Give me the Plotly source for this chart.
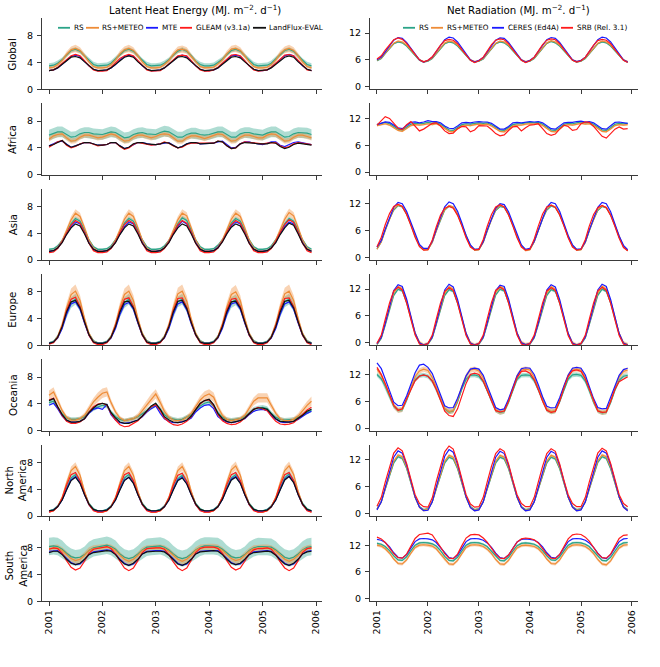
import plotly.graph_objects as go
import pandas as pd

# ---------------- data (monthly, Jan 2001 - Dec 2005) ----------------
DATES = [d.strftime("%Y-%m-%d") for d in pd.date_range("2001-01-01", periods=60, freq="MS")]
YEAR_TICKS = ["2001-01-01", "2002-01-01", "2003-01-01", "2004-01-01", "2005-01-01", "2006-01-01"]
YEAR_LABELS = ["2001", "2002", "2003", "2004", "2005", "2006"]
REGIONS = ["Global", "Africa", "Asia", "Europe", "Oceania", "North<br>America", "South<br>America"]
LE_NAMES = ["RS", "RS+METEO", "MTE", "GLEAM (v3.1a)", "LandFlux-EVAL"]
RN_NAMES = ["RS", "RS+METEO", "CERES (Ed4A)", "SRB (Rel. 3.1)"]

# ---- Latent heat energy (MJ m-2 d-1) ----
LE_GLOBAL_RS = [3.5,3.6,3.9,4.4,5.1,5.8,6.0,5.7,5.0,4.3,3.7,3.5,
                3.5,3.6,3.9,4.5,5.2,5.8,6.0,5.7,5.0,4.3,3.7,3.5,
                3.5,3.6,3.9,4.4,5.1,5.7,6.0,5.7,5.0,4.2,3.7,3.5,
                3.5,3.6,4.0,4.5,5.2,5.8,6.0,5.7,5.0,4.3,3.7,3.5,
                3.5,3.6,3.9,4.5,5.2,5.8,6.0,5.7,5.0,4.3,3.7,3.5]
LE_GLOBAL_RSM = [3.2,3.3,3.7,4.3,5.2,5.9,6.1,5.8,5.0,4.1,3.4,3.2,
                 3.2,3.3,3.7,4.4,5.3,5.9,6.1,5.8,5.0,4.1,3.4,3.2,
                 3.2,3.3,3.7,4.3,5.2,5.9,6.0,5.8,4.9,4.1,3.4,3.2,
                 3.2,3.3,3.8,4.4,5.3,6.0,6.1,5.8,5.0,4.1,3.4,3.2,
                 3.2,3.3,3.7,4.4,5.3,5.9,6.1,5.8,5.0,4.1,3.4,3.2]
LE_GLOBAL_MTE = [2.8,2.9,3.2,3.7,4.3,4.9,5.1,4.9,4.2,3.5,3.0,2.8,
                 2.8,2.9,3.2,3.7,4.4,4.9,5.1,4.9,4.2,3.5,3.0,2.8,
                 2.8,2.9,3.2,3.7,4.3,4.9,5.1,4.9,4.2,3.5,3.0,2.8,
                 2.8,2.9,3.2,3.8,4.4,5.0,5.1,4.9,4.2,3.5,3.0,2.8,
                 2.8,2.9,3.3,3.8,4.4,5.0,5.2,5.0,4.3,3.5,3.0,2.8]
LE_GLOBAL_GLEAM = [2.8,2.9,3.3,3.9,4.5,5.0,5.2,5.0,4.3,3.5,2.9,2.7,
                   2.7,2.8,3.3,3.9,4.6,5.0,5.2,5.0,4.3,3.5,2.9,2.7,
                   2.7,2.8,3.2,3.8,4.5,5.0,5.1,5.0,4.3,3.5,2.9,2.7,
                   2.7,2.9,3.3,3.9,4.6,5.1,5.2,5.0,4.3,3.5,2.9,2.7,
                   2.8,2.9,3.3,3.9,4.6,5.1,5.2,5.0,4.3,3.6,2.9,2.8]
LE_GLOBAL_LF = [2.8,2.9,3.2,3.7,4.3,4.8,4.9,4.7,4.1,3.5,3.0,2.8,
                2.8,2.9,3.2,3.7,4.3,4.8,5.0,4.8,4.1,3.5,3.0,2.8,
                2.8,2.9,3.2,3.7,4.3,4.8,4.9,4.7,4.1,3.5,3.0,2.8,
                2.8,2.9,3.2,3.7,4.3,4.8,4.9,4.7,4.1,3.5,3.0,2.8,
                2.8,2.9,3.2,3.7,4.3,4.8,5.0,4.8,4.1,3.5,3.0,2.8]
LE_GLOBAL_RS_SD = [0.4,0.4,0.4,0.35,0.3,0.3,0.3,0.3,0.3,0.35,0.4,0.4]
LE_GLOBAL_RSM_SD = [0.25,0.25,0.3,0.35,0.45,0.5,0.55,0.5,0.4,0.3,0.25,0.25]

LE_AFRICA_RS = [5.9,6.2,6.4,6.4,6.0,5.6,5.7,6.1,6.3,6.3,6.1,6.0,
                6.0,6.2,6.4,6.3,5.9,5.5,5.6,6.0,6.2,6.3,6.1,6.0,
                6.0,6.3,6.5,6.4,6.0,5.6,5.6,6.0,6.2,6.2,6.0,5.9,
                6.0,6.2,6.4,6.4,6.0,5.6,5.6,6.1,6.3,6.3,6.1,6.0,
                5.9,6.2,6.4,6.4,6.0,5.6,5.7,6.1,6.3,6.3,6.2,6.0]
LE_AFRICA_RSM = [5.3,5.8,6.0,6.1,5.5,5.0,5.1,5.6,5.9,5.9,5.7,5.5,
                 5.6,5.9,6.1,5.9,5.4,5.0,5.1,5.6,5.9,5.9,5.7,5.5,
                 5.7,6.0,6.1,6.0,5.5,5.0,5.0,5.5,5.8,5.8,5.6,5.4,
                 5.6,5.9,6.1,6.0,5.5,5.0,5.1,5.6,5.9,5.9,5.7,5.5,
                 5.5,5.9,6.1,6.0,5.5,5.0,5.1,5.6,5.9,5.9,5.7,5.5]
LE_AFRICA_MTE = [4.3,4.6,4.9,5.0,4.5,4.1,4.3,4.6,4.8,4.8,4.6,4.4,
                 4.4,4.5,4.8,4.8,4.3,3.9,4.1,4.5,4.8,4.8,4.6,4.5,
                 4.5,4.6,4.8,4.8,4.4,4.0,4.2,4.6,4.8,4.8,4.6,4.6,
                 4.6,4.7,4.9,5.0,4.5,4.0,4.1,4.6,4.9,4.9,4.7,4.6,
                 4.5,4.7,4.9,4.9,4.4,4.2,4.5,4.8,4.9,4.8,4.6,4.5]
LE_AFRICA_GLEAM = [4.1,4.5,4.9,5.1,4.4,4.0,4.2,4.6,4.8,4.8,4.5,4.3,
                   4.4,4.5,4.8,4.8,4.2,3.8,4.0,4.5,4.8,4.7,4.5,4.4,
                   4.5,4.6,4.9,4.7,4.3,4.0,4.1,4.5,4.7,4.7,4.6,4.6,
                   4.6,4.7,5.0,4.9,4.3,3.9,4.0,4.6,4.9,4.8,4.7,4.6,
                   4.6,4.7,4.8,4.8,4.3,4.0,4.2,4.6,4.8,4.7,4.6,4.5]
LE_AFRICA_LF = [4.3,4.5,4.8,5.1,4.5,4.1,4.3,4.6,4.8,4.8,4.6,4.4,
                4.4,4.5,4.8,4.8,4.3,3.9,4.1,4.6,4.8,4.8,4.6,4.5,
                4.5,4.6,4.8,4.7,4.3,4.0,4.2,4.6,4.8,4.8,4.6,4.6,
                4.6,4.7,5.0,4.9,4.3,3.9,4.0,4.6,4.8,4.8,4.7,4.6,
                4.6,4.6,4.8,4.7,4.2,3.9,4.1,4.5,4.7,4.6,4.5,4.4]
LE_AFRICA_RS_SD = [0.8,0.8,0.8,0.8,0.8,0.8,0.8,0.8,0.8,0.8,0.8,0.8]
LE_AFRICA_RSM_SD = [0.4,0.4,0.4,0.4,0.4,0.4,0.4,0.4,0.4,0.4,0.4,0.4]

LE_ASIA_RS = [1.6,1.7,2.1,2.9,4.1,5.4,6.2,5.8,4.5,3.0,2.0,1.6,
              1.6,1.7,2.1,3.0,4.2,5.5,6.2,5.8,4.5,3.0,2.0,1.6,
              1.6,1.7,2.1,2.9,4.1,5.4,6.3,5.9,4.5,3.0,2.0,1.6,
              1.6,1.7,2.2,3.0,4.2,5.5,6.2,5.8,4.5,3.0,2.0,1.6,
              1.6,1.7,2.1,3.0,4.2,5.4,6.2,5.8,4.5,3.0,2.0,1.6]
LE_ASIA_RSM = [1.3,1.4,1.9,2.9,4.4,6.0,7.0,6.5,4.8,3.0,1.8,1.3,
               1.3,1.4,1.9,3.0,4.5,6.1,7.0,6.5,4.8,3.0,1.8,1.3,
               1.3,1.4,1.9,2.9,4.4,6.0,7.0,6.6,4.8,3.0,1.8,1.3,
               1.3,1.4,2.0,3.0,4.5,6.1,7.0,6.5,4.8,3.0,1.8,1.3,
               1.3,1.4,1.9,3.0,4.5,6.1,7.1,6.6,4.8,3.0,1.8,1.3]
LE_ASIA_MTE = [1.3,1.4,1.8,2.7,3.9,5.0,5.7,5.4,4.1,2.6,1.6,1.3,
               1.3,1.4,1.8,2.7,3.9,5.0,5.7,5.4,4.1,2.6,1.6,1.3,
               1.3,1.4,1.8,2.7,3.9,5.0,5.8,5.4,4.1,2.6,1.6,1.3,
               1.3,1.4,1.9,2.8,4.0,5.1,5.7,5.4,4.1,2.6,1.6,1.3,
               1.3,1.4,1.8,2.7,4.0,5.0,5.7,5.4,4.1,2.6,1.6,1.3]
LE_ASIA_GLEAM = [1.1,1.2,1.7,2.7,4.0,5.2,5.9,5.5,4.1,2.5,1.4,1.1,
                 1.1,1.2,1.7,2.7,4.1,5.3,5.9,5.5,4.1,2.5,1.4,1.1,
                 1.1,1.2,1.7,2.7,4.0,5.2,5.9,5.5,4.1,2.5,1.4,1.1,
                 1.1,1.2,1.8,2.8,4.1,5.3,5.9,5.5,4.1,2.5,1.4,1.1,
                 1.1,1.2,1.7,2.8,4.1,5.3,6.0,5.6,4.1,2.5,1.4,1.1]
LE_ASIA_LF = [1.3,1.4,1.8,2.6,3.8,4.8,5.4,5.1,3.9,2.5,1.6,1.3,
              1.3,1.4,1.8,2.6,3.8,4.8,5.4,5.1,3.9,2.5,1.6,1.3,
              1.3,1.4,1.8,2.6,3.8,4.8,5.4,5.1,3.9,2.5,1.6,1.3,
              1.3,1.4,1.8,2.7,3.9,4.9,5.4,5.1,3.9,2.5,1.6,1.3,
              1.3,1.4,1.8,2.6,3.8,4.8,5.5,5.2,3.9,2.5,1.6,1.3]
LE_ASIA_RS_SD = [0.15,0.15,0.2,0.2,0.25,0.3,0.3,0.3,0.25,0.2,0.15,0.15]
LE_ASIA_RSM_SD = [0.2,0.2,0.25,0.3,0.4,0.55,0.6,0.55,0.45,0.3,0.2,0.2]

LE_EUROPE_RS = [0.4,0.6,1.3,2.8,4.8,6.4,6.9,5.8,3.6,1.7,0.7,0.4,
                0.4,0.6,1.3,2.9,4.9,6.4,6.9,5.8,3.6,1.7,0.7,0.4,
                0.4,0.6,1.3,2.8,4.8,6.5,6.9,5.7,3.5,1.7,0.7,0.4,
                0.4,0.6,1.3,2.9,4.9,6.4,6.8,5.8,3.6,1.7,0.7,0.4,
                0.4,0.6,1.3,2.9,4.9,6.5,6.9,5.8,3.6,1.7,0.7,0.4]
LE_EUROPE_RSM = [0.3,0.5,1.3,3.1,5.6,7.6,8.1,6.7,4.0,1.8,0.6,0.3,
                 0.3,0.5,1.3,3.2,5.7,7.6,8.1,6.7,4.0,1.8,0.6,0.3,
                 0.3,0.5,1.3,3.1,5.6,7.7,8.1,6.6,3.9,1.8,0.6,0.3,
                 0.3,0.5,1.3,3.2,5.7,7.6,8.0,6.7,4.0,1.8,0.6,0.3,
                 0.3,0.5,1.3,3.2,5.7,7.7,8.1,6.7,4.0,1.8,0.6,0.3]
LE_EUROPE_MTE = [0.3,0.5,1.1,2.5,4.6,6.2,6.5,5.4,3.3,1.5,0.5,0.3,
                 0.3,0.5,1.1,2.5,4.6,6.1,6.4,5.4,3.3,1.5,0.5,0.3,
                 0.3,0.5,1.1,2.5,4.6,6.2,6.5,5.3,3.2,1.5,0.5,0.3,
                 0.3,0.5,1.1,2.5,4.6,6.2,6.4,5.4,3.3,1.5,0.5,0.3,
                 0.3,0.5,1.1,2.5,4.6,6.2,6.5,5.4,3.3,1.5,0.5,0.3]
LE_EUROPE_GLEAM = [0.2,0.4,1.2,2.9,5.2,6.9,7.2,5.8,3.5,1.5,0.4,0.1,
                   0.1,0.4,1.2,3.0,5.3,6.9,7.1,5.8,3.5,1.5,0.4,0.1,
                   0.1,0.4,1.2,2.9,5.2,7.0,7.1,5.7,3.4,1.5,0.4,0.1,
                   0.1,0.4,1.2,3.0,5.3,6.9,7.0,5.8,3.5,1.5,0.4,0.1,
                   0.1,0.4,1.2,3.0,5.3,7.0,7.1,5.8,3.5,1.5,0.4,0.1]
LE_EUROPE_LF = [0.3,0.5,1.2,2.8,5.0,6.5,6.7,5.6,3.5,1.6,0.5,0.3,
                0.3,0.5,1.2,2.8,5.0,6.5,6.6,5.6,3.5,1.6,0.5,0.3,
                0.3,0.5,1.2,2.8,5.0,6.6,6.7,5.5,3.4,1.6,0.5,0.3,
                0.3,0.5,1.2,2.8,5.0,6.5,6.6,5.6,3.5,1.6,0.5,0.3,
                0.3,0.5,1.2,2.8,5.0,6.6,6.7,5.6,3.5,1.6,0.5,0.3]
LE_EUROPE_RS_SD = [0.1,0.15,0.3,0.5,0.7,0.8,0.8,0.7,0.5,0.3,0.15,0.1]
LE_EUROPE_RSM_SD = [0.1,0.15,0.3,0.5,0.7,0.9,1.0,0.8,0.5,0.3,0.15,0.1]

LE_OCEANIA_RS = [4.2,4.4,3.5,2.5,1.9,1.7,1.7,1.8,2.1,2.8,3.3,3.6,
                 3.8,3.7,2.8,2.1,1.7,1.5,1.6,1.8,2.1,2.5,3.0,3.5,
                 3.9,3.2,2.4,1.9,1.7,1.6,1.7,2.0,2.4,3.1,3.7,4.1,
                 4.3,3.7,2.7,2.0,1.7,1.6,1.7,1.8,2.1,2.7,3.2,3.4,
                 3.5,3.3,2.6,2.0,1.7,1.6,1.6,1.7,2.0,2.4,2.8,3.1]
LE_OCEANIA_RSM = [5.3,5.8,4.5,3.0,2.0,1.6,1.6,1.8,2.3,3.3,4.3,5.0,
                  5.6,5.8,4.2,2.8,1.9,1.5,1.6,1.8,2.2,3.0,4.0,4.8,
                  5.5,4.2,2.9,2.0,1.6,1.5,1.6,2.0,2.6,3.6,4.6,5.2,
                  5.5,5.0,3.5,2.3,1.7,1.5,1.6,1.8,2.3,3.3,4.4,4.9,
                  4.9,4.9,3.8,2.6,1.8,1.5,1.5,1.7,2.2,3.0,3.8,4.4]
LE_OCEANIA_MTE = [3.8,4.1,3.3,2.2,1.5,1.3,1.3,1.4,1.8,2.6,3.2,3.4,
                  3.2,3.9,2.4,1.6,1.2,1.1,1.2,1.4,1.6,2.1,2.8,3.3,
                  3.7,2.6,1.8,1.4,1.2,1.2,1.3,1.5,1.9,2.8,3.4,3.8,
                  3.9,3.3,2.1,1.6,1.3,1.2,1.3,1.5,1.8,2.4,2.9,3.1,
                  3.2,3.0,2.3,1.7,1.3,1.2,1.3,1.4,1.7,2.2,2.6,2.9]
LE_OCEANIA_GLEAM = [4.6,4.9,3.5,2.3,1.4,1.1,1.1,1.3,1.8,2.8,3.6,4.0,
                    4.1,3.8,2.6,1.6,0.9,0.6,0.7,1.1,1.5,2.2,3.0,3.6,
                    3.9,3.0,1.9,1.3,0.9,0.8,1.0,1.4,2.1,3.2,4.0,4.5,
                    4.6,3.7,2.4,1.5,1.1,0.9,1.0,1.3,1.9,2.6,3.2,3.5,
                    3.3,3.0,2.2,1.4,1.0,0.9,1.0,1.2,1.8,2.4,3.1,3.5]
LE_OCEANIA_LF = [4.5,4.8,3.6,2.4,1.6,1.3,1.3,1.4,1.8,2.7,3.4,3.9,
                 4.1,3.9,2.7,1.9,1.3,1.1,1.1,1.3,1.6,2.2,3.0,3.7,
                 4.1,3.2,2.1,1.6,1.3,1.2,1.3,1.6,2.2,3.2,4.1,4.5,
                 4.7,3.9,2.6,1.8,1.4,1.2,1.3,1.5,1.9,2.6,3.2,3.4,
                 3.4,3.2,2.5,1.8,1.4,1.3,1.3,1.4,1.8,2.3,2.9,3.2]
LE_OCEANIA_RS_SD = [0.35,0.35,0.3,0.3,0.3,0.3,0.3,0.3,0.3,0.3,0.35,0.35]
LE_OCEANIA_RSM_SD = [0.7,0.7,0.5,0.4,0.3,0.3,0.3,0.3,0.4,0.5,0.6,0.7]

LE_NAMERICA_RS = [0.8,1.0,1.5,2.6,4.2,5.7,6.2,5.2,3.4,1.9,1.1,0.8,
                  0.8,1.0,1.5,2.6,4.2,5.7,6.2,5.2,3.4,1.9,1.1,0.8,
                  0.8,1.0,1.5,2.6,4.2,5.6,6.1,5.2,3.4,1.9,1.1,0.8,
                  0.8,1.0,1.5,2.7,4.3,5.7,6.2,5.2,3.4,1.9,1.1,0.8,
                  0.8,1.0,1.5,2.6,4.2,5.7,6.3,5.3,3.4,1.9,1.1,0.8]
LE_NAMERICA_RSM = [0.6,0.8,1.4,2.8,4.9,6.8,7.4,6.1,3.7,1.8,0.9,0.6,
                   0.6,0.8,1.4,2.8,4.9,6.8,7.4,6.1,3.7,1.8,0.9,0.6,
                   0.6,0.8,1.4,2.8,4.9,6.8,7.4,6.1,3.7,1.8,0.9,0.6,
                   0.6,0.8,1.4,2.9,5.0,6.9,7.5,6.1,3.7,1.8,0.9,0.6,
                   0.6,0.8,1.4,2.8,4.9,6.8,7.5,6.2,3.7,1.8,0.9,0.6]
LE_NAMERICA_MTE = [0.7,0.9,1.4,2.4,4.0,5.4,5.9,5.0,3.2,1.7,0.9,0.7,
                   0.7,0.9,1.4,2.4,4.0,5.4,5.8,5.0,3.2,1.7,0.9,0.7,
                   0.7,0.9,1.4,2.4,4.0,5.4,5.8,4.9,3.2,1.7,0.9,0.7,
                   0.7,0.9,1.4,2.5,4.1,5.5,5.9,5.0,3.2,1.7,0.9,0.7,
                   0.7,0.9,1.4,2.4,4.0,5.5,6.0,5.1,3.2,1.7,0.9,0.7]
LE_NAMERICA_GLEAM = [0.6,0.8,1.4,2.7,4.6,6.2,6.5,5.3,3.3,1.7,0.8,0.6,
                     0.6,0.8,1.4,2.7,4.6,6.2,6.5,5.3,3.3,1.7,0.8,0.6,
                     0.6,0.8,1.4,2.7,4.6,6.1,6.4,5.2,3.3,1.7,0.8,0.6,
                     0.6,0.8,1.4,2.8,4.7,6.2,6.5,5.3,3.3,1.7,0.8,0.6,
                     0.6,0.8,1.4,2.7,4.6,6.2,6.5,5.3,3.3,1.7,0.8,0.6]
LE_NAMERICA_LF = [0.8,0.9,1.4,2.4,3.9,5.3,5.8,4.9,3.2,1.8,1.0,0.8,
                  0.8,0.9,1.4,2.4,3.9,5.3,5.8,4.9,3.2,1.8,1.0,0.8,
                  0.8,0.9,1.4,2.4,3.9,5.3,5.7,4.8,3.2,1.8,1.0,0.8,
                  0.8,0.9,1.4,2.5,4.0,5.4,5.8,4.9,3.2,1.8,1.0,0.8,
                  0.8,0.9,1.4,2.4,3.9,5.4,5.9,5.0,3.2,1.8,1.0,0.8]
LE_NAMERICA_RS_SD = [0.1,0.1,0.2,0.3,0.4,0.5,0.5,0.45,0.35,0.2,0.1,0.1]
LE_NAMERICA_RSM_SD = [0.1,0.1,0.2,0.3,0.5,0.6,0.65,0.55,0.35,0.2,0.1,0.1]

LE_SAMERICA_RS = [8.2,8.3,8.2,7.8,7.2,6.7,6.5,6.6,7.0,7.6,8.0,8.1,
                  8.3,8.4,8.2,7.8,7.1,6.6,6.4,6.6,7.1,7.7,8.1,8.2,
                  8.3,8.3,8.1,7.7,7.1,6.6,6.4,6.6,7.1,7.7,8.1,8.3,
                  8.3,8.3,8.2,7.8,7.2,6.7,6.5,6.6,7.0,7.6,8.0,8.2,
                  8.2,8.2,8.1,7.7,7.1,6.6,6.4,6.6,7.1,7.7,8.1,8.2]
LE_SAMERICA_RSM = [7.9,8.0,8.0,7.6,7.0,6.4,6.1,6.3,6.9,7.6,7.9,8.0,
                   8.0,8.1,8.0,7.6,6.9,6.3,6.0,6.3,6.9,7.6,7.9,8.0,
                   8.0,8.0,7.9,7.5,6.9,6.3,6.0,6.3,6.9,7.6,8.0,8.1,
                   8.1,8.1,8.0,7.6,7.0,6.4,6.1,6.3,6.9,7.5,7.9,8.0,
                   8.0,8.0,7.9,7.5,6.9,6.3,6.0,6.3,6.9,7.6,7.9,8.0]
LE_SAMERICA_MTE = [7.5,7.6,7.6,7.1,6.4,5.8,5.5,5.6,6.2,7.0,7.4,7.5,
                   7.6,7.7,7.6,7.1,6.3,5.7,5.4,5.6,6.3,7.1,7.5,7.6,
                   7.6,7.6,7.5,7.0,6.3,5.7,5.4,5.6,6.3,7.1,7.5,7.6,
                   7.6,7.6,7.6,7.1,6.4,5.8,5.5,5.6,6.2,7.0,7.4,7.5,
                   7.5,7.6,7.5,7.0,6.3,5.7,5.4,5.6,6.3,7.1,7.5,7.6]
LE_SAMERICA_GLEAM = [7.8,8.0,7.9,7.2,6.1,5.1,4.7,5.0,6.0,7.2,7.8,7.9,
                     8.0,8.2,7.9,7.1,6.0,5.0,4.6,5.0,6.1,7.3,7.9,8.0,
                     8.0,8.0,7.8,7.0,5.9,5.0,4.6,5.0,6.1,7.3,7.9,8.1,
                     8.1,8.1,7.9,7.2,6.1,5.1,4.7,5.0,6.0,7.1,7.7,7.9,
                     7.9,8.0,7.8,7.0,5.9,5.0,4.6,5.0,6.1,7.3,7.9,8.0]
LE_SAMERICA_LF = [7.3,7.5,7.5,7.0,6.3,5.7,5.5,5.7,6.3,7.0,7.3,7.4,
                  7.4,7.6,7.5,7.0,6.2,5.6,5.4,5.7,6.3,7.1,7.4,7.5,
                  7.5,7.5,7.4,6.9,6.2,5.6,5.4,5.7,6.3,7.1,7.4,7.5,
                  7.5,7.6,7.5,7.0,6.3,5.7,5.5,5.7,6.3,7.0,7.3,7.4,
                  7.4,7.5,7.4,6.9,6.2,5.6,5.4,5.7,6.3,7.1,7.4,7.5]
LE_SAMERICA_RS_SD = [1.3,1.3,1.3,1.3,1.2,1.2,1.2,1.2,1.2,1.3,1.3,1.3]
LE_SAMERICA_RSM_SD = [0.5,0.5,0.5,0.5,0.5,0.5,0.5,0.5,0.5,0.5,0.5,0.5]

# ---- Net radiation (MJ m-2 d-1) ----
RN_GLOBAL_RS = [5.8,6.3,7.4,8.6,9.6,10.0,9.8,9.1,8.0,6.9,5.9,5.5,
                5.7,6.3,7.4,8.6,9.6,10.0,9.8,9.1,8.0,6.9,5.9,5.5,
                5.7,6.2,7.3,8.6,9.6,10.0,9.8,9.1,8.0,6.9,5.9,5.5,
                5.7,6.3,7.4,8.7,9.7,10.1,9.8,9.1,8.0,6.9,5.9,5.5,
                5.7,6.3,7.4,8.6,9.6,10.0,9.8,9.1,8.0,6.9,5.9,5.5]
RN_GLOBAL_RSM = [5.9,6.4,7.5,8.7,9.7,10.2,10.0,9.3,8.1,7.0,6.0,5.6,
                 5.8,6.4,7.5,8.8,9.8,10.2,10.0,9.3,8.1,7.0,6.0,5.6,
                 5.8,6.3,7.4,8.7,9.7,10.2,10.0,9.3,8.1,7.0,6.0,5.6,
                 5.8,6.4,7.5,8.8,9.8,10.3,10.0,9.3,8.1,7.0,6.0,5.6,
                 5.8,6.4,7.5,8.7,9.7,10.2,10.0,9.3,8.1,7.0,6.0,5.6]
RN_GLOBAL_CERES = [6.0,6.6,7.8,9.2,10.4,11.0,10.8,9.9,8.6,7.2,6.0,5.5,
                   5.9,6.6,7.8,9.3,10.5,11.1,10.9,10.0,8.6,7.2,6.0,5.5,
                   5.9,6.5,7.7,9.2,10.4,10.9,10.8,9.9,8.6,7.2,6.0,5.5,
                   5.9,6.6,7.8,9.3,10.5,11.0,10.8,9.9,8.6,7.2,6.0,5.6,
                   5.9,6.6,7.8,9.3,10.5,11.1,10.9,10.0,8.6,7.2,6.0,5.5]
RN_GLOBAL_SRB = [6.2,6.9,8.2,9.5,10.5,10.9,10.6,9.7,8.4,7.1,6.0,5.5,
                 5.9,6.7,8.0,9.3,10.3,10.6,10.4,9.6,8.3,7.0,5.9,5.4,
                 5.8,6.6,8.0,9.4,10.4,10.7,10.5,9.6,8.3,7.0,5.9,5.4,
                 5.8,6.6,8.0,9.4,10.4,10.7,10.5,9.6,8.3,7.0,5.9,5.5,
                 5.8,6.6,8.0,9.3,10.3,10.6,10.4,9.6,8.3,7.0,5.9,5.4]
RN_GLOBAL_RS_SD = [0.15,0.15,0.15,0.15,0.15,0.15,0.15,0.15,0.15,0.15,0.15,0.15]
RN_GLOBAL_RSM_SD = [0.2,0.2,0.2,0.2,0.2,0.2,0.2,0.2,0.2,0.2,0.2,0.2]

RN_AFRICA_RS = [10.6,10.9,11.1,10.8,10.2,9.6,9.4,10.0,10.7,10.9,10.8,10.9,
                11.1,10.9,11.1,10.7,10.0,9.4,9.3,9.9,10.6,10.8,10.7,10.9,
                11.0,10.9,11.0,10.6,10.0,9.4,9.3,9.9,10.6,10.8,10.8,11.0,
                11.1,11.0,11.1,10.7,10.0,9.4,9.3,9.9,10.7,10.9,10.8,11.0,
                11.2,11.0,11.1,10.7,10.0,9.4,9.3,9.9,10.7,10.9,10.8,10.9]
RN_AFRICA_RSM = [10.4,10.6,10.8,10.5,9.9,9.3,9.1,9.7,10.4,10.6,10.5,10.6,
                 10.8,10.6,10.8,10.4,9.7,9.1,9.0,9.6,10.3,10.5,10.4,10.6,
                 10.7,10.6,10.7,10.3,9.7,9.1,9.0,9.6,10.3,10.5,10.5,10.7,
                 10.8,10.7,10.8,10.4,9.7,9.1,9.0,9.6,10.4,10.6,10.5,10.7,
                 10.9,10.7,10.8,10.4,9.7,9.1,9.0,9.6,10.4,10.6,10.5,10.6]
RN_AFRICA_CERES = [10.6,11.0,11.2,11.1,10.5,9.9,9.7,10.4,11.1,11.2,11.0,11.2,
                   11.5,11.3,11.3,11.0,10.3,9.8,9.7,10.3,11.0,11.1,11.0,11.2,
                   11.3,11.2,11.2,10.9,10.2,9.6,9.6,10.2,11.0,11.1,11.0,11.2,
                   11.3,11.2,11.3,11.0,10.3,9.7,9.6,10.3,11.0,11.1,11.1,11.3,
                   11.4,11.2,11.3,11.0,10.3,9.7,9.6,10.3,11.1,11.2,11.0,10.9]
RN_AFRICA_SRB = [10.5,11.5,12.4,12.0,10.8,9.8,9.5,10.6,11.3,10.2,9.2,9.6,
                 10.3,10.9,11.0,10.3,9.2,8.6,8.7,9.7,10.2,10.1,9.0,9.4,
                 10.4,10.4,10.3,9.5,8.6,8.1,8.3,9.3,10.1,10.2,9.2,9.9,
                 10.5,10.6,10.8,9.7,8.6,8.2,8.5,9.6,10.5,10.2,9.3,9.5,
                 10.8,11.2,11.1,10.2,9.0,8.0,7.6,8.5,9.6,10.1,9.6,9.7]
RN_AFRICA_RS_SD = [0.15,0.15,0.15,0.15,0.15,0.15,0.15,0.15,0.15,0.15,0.15,0.15]
RN_AFRICA_RSM_SD = [0.2,0.2,0.2,0.2,0.2,0.2,0.2,0.2,0.2,0.2,0.2,0.2]

RN_ASIA_RS = [1.9,3.5,6.0,8.6,10.6,11.6,11.3,9.7,7.3,4.7,2.7,1.8,
              1.8,3.4,5.9,8.5,10.6,11.5,11.2,9.6,7.2,4.6,2.6,1.7,
              1.8,3.4,5.9,8.5,10.5,11.4,11.2,9.6,7.2,4.6,2.6,1.6,
              1.8,3.5,6.0,8.6,10.6,11.5,11.2,9.6,7.2,4.6,2.6,1.7,
              1.8,3.4,5.9,8.5,10.5,11.4,11.1,9.5,7.1,4.5,2.5,1.5]
RN_ASIA_RSM = [1.8,3.5,6.1,8.7,10.8,11.7,11.4,9.8,7.3,4.7,2.6,1.7,
               1.7,3.4,6.0,8.6,10.7,11.6,11.3,9.7,7.2,4.6,2.5,1.6,
               1.7,3.4,6.0,8.6,10.7,11.6,11.3,9.7,7.2,4.6,2.5,1.5,
               1.7,3.5,6.1,8.7,10.8,11.7,11.3,9.7,7.2,4.6,2.5,1.6,
               1.7,3.4,6.0,8.6,10.7,11.5,11.2,9.6,7.1,4.5,2.4,1.5]
RN_ASIA_CERES = [2.3,3.8,6.3,9.0,11.2,12.3,12.0,10.3,7.8,5.0,2.9,2.0,
                 2.0,3.6,6.2,9.0,11.3,12.4,12.0,10.3,7.7,4.9,2.8,1.8,
                 1.9,3.5,6.1,8.8,11.0,12.0,11.8,10.2,7.7,4.9,2.8,1.8,
                 2.0,3.6,6.2,9.0,11.2,12.3,12.0,10.3,7.7,4.9,2.8,1.8,
                 1.9,3.5,6.1,8.9,11.2,12.3,12.0,10.2,7.6,4.8,2.7,1.7]
RN_ASIA_SRB = [2.4,4.5,7.3,9.8,11.4,11.9,11.4,9.6,7.1,4.5,2.4,1.6,
               1.7,3.9,6.8,9.5,11.0,11.4,11.0,9.4,7.0,4.4,2.3,1.7,
               1.8,4.0,6.9,9.6,11.3,11.8,11.3,9.5,7.0,4.4,2.3,1.6,
               1.8,4.1,7.0,9.7,11.3,11.7,11.2,9.5,7.0,4.4,2.3,1.6,
               1.8,4.0,7.0,9.6,11.1,11.6,11.1,9.4,6.9,4.3,2.2,1.5]
RN_ASIA_RS_SD = [0.2,0.2,0.2,0.2,0.2,0.2,0.2,0.2,0.2,0.2,0.2,0.2]
RN_ASIA_RSM_SD = [0.2,0.2,0.2,0.2,0.2,0.2,0.2,0.2,0.2,0.2,0.2,0.2]

RN_EUROPE_RS = [-0.4,1.0,3.9,7.6,10.6,12.0,11.6,9.0,5.4,2.0,-0.1,-0.6,
                -0.3,1.1,4.0,7.6,10.6,11.9,11.5,8.9,5.3,1.9,-0.2,-0.6,
                -0.3,1.1,4.0,7.7,10.7,12.0,11.6,9.0,5.4,2.0,-0.1,-0.5,
                -0.3,1.1,4.0,7.6,10.6,11.9,11.5,8.9,5.3,1.9,-0.2,-0.6,
                -0.3,1.1,4.0,7.6,10.6,12.0,11.5,8.9,5.3,1.9,-0.2,-0.5]
RN_EUROPE_RSM = [-0.3,1.2,4.2,8.0,11.1,12.6,12.1,9.4,5.7,2.2,0.1,-0.5,
                 -0.2,1.3,4.3,8.0,11.1,12.5,12.0,9.3,5.6,2.1,0.0,-0.5,
                 -0.2,1.3,4.3,8.1,11.2,12.6,12.1,9.4,5.7,2.2,0.1,-0.4,
                 -0.2,1.3,4.3,8.0,11.1,12.5,12.0,9.3,5.6,2.1,0.0,-0.5,
                 -0.2,1.3,4.3,8.0,11.1,12.6,12.0,9.3,5.6,2.1,0.0,-0.4]
RN_EUROPE_CERES = [-0.2,1.2,4.3,8.3,11.7,13.0,12.6,9.8,5.8,2.2,0.0,-0.5,
                   -0.2,1.3,4.4,8.4,11.8,13.1,12.5,9.7,5.7,2.1,-0.1,-0.5,
                   -0.2,1.3,4.4,8.4,11.7,12.9,12.6,9.8,5.8,2.2,0.0,-0.4,
                   -0.2,1.3,4.4,8.4,11.8,13.0,12.5,9.7,5.7,2.1,-0.1,-0.5,
                   -0.2,1.3,4.4,8.4,11.8,13.1,12.6,9.7,5.7,2.1,-0.1,-0.5]
RN_EUROPE_SRB = [-0.1,1.7,5.2,8.9,11.6,12.4,11.8,8.9,5.2,1.7,-0.3,-0.6,
                 -0.2,1.7,5.2,8.9,11.5,12.3,11.7,8.8,5.1,1.6,-0.3,-0.6,
                 -0.2,1.7,5.3,9.0,11.7,12.4,11.8,8.9,5.2,1.7,-0.3,-0.6,
                 -0.2,1.7,5.2,8.9,11.6,12.3,11.7,8.8,5.1,1.6,-0.3,-0.6,
                 -0.2,1.7,5.2,8.9,11.6,12.4,11.7,8.8,5.1,1.6,-0.3,-0.6]
RN_EUROPE_RS_SD = [0.3,0.3,0.3,0.3,0.3,0.3,0.3,0.3,0.3,0.3,0.3,0.3]
RN_EUROPE_RSM_SD = [0.4,0.4,0.4,0.4,0.4,0.4,0.4,0.4,0.4,0.4,0.4,0.4]

RN_OCEANIA_RS = [12.0,11.0,9.4,7.0,4.9,4.0,4.1,6.2,8.8,10.8,11.7,11.9,
                 11.6,10.5,8.8,6.4,4.3,3.6,3.8,5.9,8.8,10.9,11.8,11.9,
                 11.6,10.4,8.5,6.0,4.0,3.5,3.7,5.8,8.6,10.9,11.8,11.9,
                 11.8,10.6,8.6,6.1,4.1,3.6,3.8,5.9,8.7,11.0,11.9,12.0,
                 11.8,10.5,8.4,5.8,3.9,3.4,3.6,5.7,8.5,10.7,11.6,11.8]
RN_OCEANIA_RSM = [13.2,11.8,9.8,7.2,5.0,4.0,4.2,6.5,9.3,11.5,12.8,13.2,
                  12.9,11.3,9.2,6.6,4.4,3.7,3.9,6.2,9.3,11.6,13.0,13.2,
                  12.8,11.2,8.9,6.2,4.1,3.6,3.8,6.1,9.1,11.6,13.0,13.2,
                  13.0,11.4,9.0,6.3,4.2,3.7,3.9,6.2,9.2,11.7,13.0,13.2,
                  13.0,11.3,8.8,6.0,4.0,3.5,3.7,6.0,9.0,11.4,12.7,13.0]
RN_OCEANIA_CERES = [14.6,13.3,11.0,8.3,5.8,5.0,5.1,7.2,9.8,12.4,14.1,14.3,
                    13.6,12.2,10.0,7.4,5.0,4.5,4.6,6.7,9.5,11.7,13.2,13.4,
                    13.2,11.8,9.5,6.9,4.6,4.1,4.3,6.5,9.3,11.7,13.3,13.5,
                    13.4,12.0,9.7,7.0,4.9,4.5,4.6,6.8,9.5,11.9,13.4,13.6,
                    13.4,11.9,9.3,6.6,4.6,4.3,4.4,6.7,9.4,11.8,13.1,13.4]
RN_OCEANIA_SRB = [13.6,12.0,9.9,7.5,5.1,4.0,4.3,6.5,8.7,10.6,11.6,11.9,
                  11.6,10.5,8.7,6.3,3.8,2.8,2.6,4.3,7.3,10.0,12.0,12.3,
                  12.0,10.5,8.4,6.0,3.9,3.6,3.8,6.0,8.8,11.3,12.7,12.8,
                  12.3,10.8,8.6,6.0,4.0,3.5,3.7,6.0,9.0,11.6,12.8,13.0,
                  12.7,11.0,8.8,6.0,3.8,3.5,3.6,6.0,8.7,10.4,11.0,11.5]
RN_OCEANIA_RS_SD = [0.5,0.5,0.5,0.5,0.5,0.5,0.5,0.5,0.5,0.5,0.5,0.5]
RN_OCEANIA_RSM_SD = [0.6,0.6,0.6,0.6,0.6,0.6,0.6,0.6,0.6,0.6,0.6,0.6]

RN_NAMERICA_RS = [1.0,2.6,5.4,8.6,11.3,12.7,12.3,10.1,6.8,3.6,1.5,0.8,
                  1.0,2.6,5.4,8.6,11.3,12.6,12.2,10.0,6.7,3.6,1.5,0.8,
                  1.0,2.6,5.4,8.6,11.3,12.6,12.2,10.0,6.7,3.6,1.5,0.8,
                  1.0,2.6,5.4,8.6,11.3,12.6,12.2,10.0,6.7,3.6,1.5,0.8,
                  1.0,2.6,5.4,8.6,11.4,12.7,12.3,10.0,6.7,3.6,1.5,0.8]
RN_NAMERICA_RSM = [0.9,2.6,5.5,8.8,11.7,13.1,12.7,10.4,6.9,3.6,1.4,0.7,
                   0.9,2.6,5.5,8.8,11.7,13.0,12.6,10.3,6.8,3.6,1.4,0.7,
                   0.9,2.6,5.5,8.8,11.7,13.0,12.6,10.3,6.8,3.6,1.4,0.7,
                   0.9,2.6,5.5,8.8,11.7,13.0,12.6,10.3,6.8,3.6,1.4,0.7,
                   0.9,2.6,5.5,8.8,11.8,13.1,12.7,10.4,6.8,3.6,1.4,0.7]
RN_NAMERICA_CERES = [0.8,2.6,5.8,9.5,12.6,14.0,13.5,10.9,7.2,3.7,1.4,0.6,
                     0.7,2.6,5.9,9.6,12.8,14.3,13.7,11.0,7.2,3.7,1.3,0.6,
                     0.8,2.6,5.8,9.5,12.6,13.9,13.4,10.8,7.1,3.7,1.4,0.6,
                     0.8,2.6,5.8,9.5,12.6,13.9,13.4,10.8,7.1,3.7,1.4,0.6,
                     0.8,2.6,5.8,9.5,12.6,14.0,13.5,10.9,7.1,3.7,1.4,0.6]
RN_NAMERICA_SRB = [1.6,3.6,7.0,10.6,13.5,14.7,14.0,11.2,7.5,4.2,2.2,1.5,
                   1.4,3.5,7.1,10.8,13.8,15.1,14.4,11.4,7.6,4.2,2.1,1.4,
                   1.5,3.6,7.0,10.6,13.4,14.5,13.9,11.1,7.4,4.2,2.2,1.5,
                   1.5,3.6,7.0,10.6,13.4,14.5,13.9,11.1,7.4,4.2,2.2,1.5,
                   1.5,3.6,7.0,10.6,13.5,14.6,14.0,11.2,7.5,4.2,2.2,1.5]
RN_NAMERICA_RS_SD = [0.3,0.3,0.3,0.3,0.3,0.3,0.3,0.3,0.3,0.3,0.3,0.3]
RN_NAMERICA_RSM_SD = [0.3,0.3,0.3,0.3,0.3,0.3,0.3,0.3,0.3,0.3,0.3,0.3]

RN_SAMERICA_RS = [12.4,12.2,11.7,10.8,9.6,8.7,8.6,9.4,10.8,12.0,12.5,12.6,
                  12.5,12.3,11.8,10.8,9.5,8.6,8.5,9.3,10.7,12.0,12.5,12.6,
                  12.5,12.2,11.7,10.7,9.5,8.6,8.5,9.3,10.7,11.9,12.4,12.5,
                  12.4,12.2,11.7,10.8,9.6,8.7,8.6,9.4,10.8,12.0,12.5,12.6,
                  12.5,12.2,11.7,10.7,9.5,8.6,8.5,9.3,10.7,12.0,12.5,12.6]
RN_SAMERICA_RSM = [12.0,11.8,11.2,10.2,8.9,7.9,7.8,8.7,10.2,11.5,12.0,12.1,
                   12.0,11.8,11.2,10.1,8.8,7.8,7.7,8.6,10.1,11.5,12.0,12.1,
                   12.0,11.7,11.1,10.1,8.8,7.8,7.7,8.6,10.1,11.4,11.9,12.0,
                   11.9,11.7,11.2,10.2,8.9,7.9,7.8,8.7,10.2,11.5,12.0,12.1,
                   12.0,11.7,11.1,10.1,8.8,7.8,7.6,8.5,10.1,11.4,12.0,12.1]
RN_SAMERICA_CERES = [13.3,13.1,12.6,11.6,10.3,9.3,9.1,9.9,11.4,12.8,13.4,13.5,
                     13.4,13.2,12.6,11.5,10.2,9.2,9.0,9.8,11.3,12.8,13.4,13.5,
                     13.4,13.1,12.5,11.5,10.2,9.2,9.0,9.8,11.3,12.7,13.3,13.4,
                     13.3,13.1,12.6,11.6,10.3,9.3,9.1,9.9,11.4,12.8,13.4,13.5,
                     13.4,13.1,12.5,11.5,10.2,9.2,9.0,9.9,11.4,12.8,13.4,13.5]
RN_SAMERICA_SRB = [13.8,13.4,12.6,11.4,10.1,9.2,9.1,10.0,11.8,13.5,14.4,14.6,
                   14.7,14.3,13.1,11.6,10.1,9.1,9.0,10.0,11.9,13.6,14.3,14.4,
                   14.3,13.6,12.7,11.3,10.0,9.1,9.0,9.8,11.3,12.7,13.4,13.6,
                   13.5,13.2,12.5,11.3,10.0,9.1,9.0,9.9,11.7,13.4,14.3,14.5,
                   14.4,13.8,12.9,11.5,10.1,9.2,9.1,10.0,11.8,13.5,14.2,14.3]
RN_SAMERICA_RS_SD = [0.25,0.25,0.25,0.25,0.25,0.25,0.25,0.25,0.25,0.25,0.25,0.25]
RN_SAMERICA_RSM_SD = [0.35,0.35,0.35,0.35,0.35,0.35,0.35,0.35,0.35,0.35,0.35,0.35]

# ---------------- tables built from the arrays above ----------------
LE_TABLE = [
    (LE_GLOBAL_RS, LE_GLOBAL_RSM, LE_GLOBAL_MTE, LE_GLOBAL_GLEAM, LE_GLOBAL_LF, LE_GLOBAL_RS_SD, LE_GLOBAL_RSM_SD),
    (LE_AFRICA_RS, LE_AFRICA_RSM, LE_AFRICA_MTE, LE_AFRICA_GLEAM, LE_AFRICA_LF, LE_AFRICA_RS_SD, LE_AFRICA_RSM_SD),
    (LE_ASIA_RS, LE_ASIA_RSM, LE_ASIA_MTE, LE_ASIA_GLEAM, LE_ASIA_LF, LE_ASIA_RS_SD, LE_ASIA_RSM_SD),
    (LE_EUROPE_RS, LE_EUROPE_RSM, LE_EUROPE_MTE, LE_EUROPE_GLEAM, LE_EUROPE_LF, LE_EUROPE_RS_SD, LE_EUROPE_RSM_SD),
    (LE_OCEANIA_RS, LE_OCEANIA_RSM, LE_OCEANIA_MTE, LE_OCEANIA_GLEAM, LE_OCEANIA_LF, LE_OCEANIA_RS_SD, LE_OCEANIA_RSM_SD),
    (LE_NAMERICA_RS, LE_NAMERICA_RSM, LE_NAMERICA_MTE, LE_NAMERICA_GLEAM, LE_NAMERICA_LF, LE_NAMERICA_RS_SD, LE_NAMERICA_RSM_SD),
    (LE_SAMERICA_RS, LE_SAMERICA_RSM, LE_SAMERICA_MTE, LE_SAMERICA_GLEAM, LE_SAMERICA_LF, LE_SAMERICA_RS_SD, LE_SAMERICA_RSM_SD),
]
RN_TABLE = [
    (RN_GLOBAL_RS, RN_GLOBAL_RSM, RN_GLOBAL_CERES, RN_GLOBAL_SRB, RN_GLOBAL_RS_SD, RN_GLOBAL_RSM_SD),
    (RN_AFRICA_RS, RN_AFRICA_RSM, RN_AFRICA_CERES, RN_AFRICA_SRB, RN_AFRICA_RS_SD, RN_AFRICA_RSM_SD),
    (RN_ASIA_RS, RN_ASIA_RSM, RN_ASIA_CERES, RN_ASIA_SRB, RN_ASIA_RS_SD, RN_ASIA_RSM_SD),
    (RN_EUROPE_RS, RN_EUROPE_RSM, RN_EUROPE_CERES, RN_EUROPE_SRB, RN_EUROPE_RS_SD, RN_EUROPE_RSM_SD),
    (RN_OCEANIA_RS, RN_OCEANIA_RSM, RN_OCEANIA_CERES, RN_OCEANIA_SRB, RN_OCEANIA_RS_SD, RN_OCEANIA_RSM_SD),
    (RN_NAMERICA_RS, RN_NAMERICA_RSM, RN_NAMERICA_CERES, RN_NAMERICA_SRB, RN_NAMERICA_RS_SD, RN_NAMERICA_RSM_SD),
    (RN_SAMERICA_RS, RN_SAMERICA_RSM, RN_SAMERICA_CERES, RN_SAMERICA_SRB, RN_SAMERICA_RS_SD, RN_SAMERICA_RSM_SD),
]

# ---------------- styling ----------------
W, H = 660, 667
FONT = "DejaVu Sans"
AX = "#3a3a3a"
C_RS = "#2ba488"
C_RSM = "#ee8c37"
C_BLUE = "#1a1aff"
C_RED = "#ff1a1a"
C_BLACK = "#111111"
F_RS = "rgba(43,164,136,0.38)"
F_RSM = "rgba(238,140,55,0.38)"
LW = 1.2

XDOM = [(42 / W, 322 / W), (370 / W, 638 / W)]
XRANGE = [("2000-11-14", "2006-02-11"), ("2000-11-12", "2006-02-13")]
YRANGE = [(0, 10.67), (-0.6, 15.4)]
YTICKS = [[0, 4, 8], [0, 6, 12]]
ROW_BOTTOM0, ROW_PITCH, ROW_H = 90, 86, 72


def ydom(r):
    b = ROW_BOTTOM0 + ROW_PITCH * r
    return (1 - b / H, 1 - (b - ROW_H) / H)


fig = go.Figure()


def add_band(ax, vals, sd, fill):
    hi = [v + sd[i % 12] for i, v in enumerate(vals)]
    lo = [v - sd[i % 12] for i, v in enumerate(vals)]
    fig.add_trace(go.Scatter(x=DATES + DATES[::-1], y=hi + lo[::-1], fill="toself",
                             fillcolor=fill, line=dict(width=0), mode="lines",
                             hoverinfo="skip", showlegend=False, xaxis=ax[0], yaxis=ax[1]))


def add_line(ax, vals, color, name):
    fig.add_trace(go.Scatter(x=DATES, y=vals, mode="lines", name=name,
                             line=dict(color=color, width=LW), showlegend=False,
                             xaxis=ax[0], yaxis=ax[1]))


layout = {}
for r in range(7):
    for c in range(2):
        n = r * 2 + c + 1
        sfx = "" if n == 1 else str(n)
        ax = ("x" + sfx, "y" + sfx)
        if c == 0:
            rs, rsm, mte, gleam, lf, sd1, sd2 = LE_TABLE[r]
            add_band(ax, rs, sd1, F_RS)
            add_band(ax, rsm, sd2, F_RSM)
            add_line(ax, rs, C_RS, LE_NAMES[0])
            add_line(ax, rsm, C_RSM, LE_NAMES[1])
            add_line(ax, mte, C_BLUE, LE_NAMES[2])
            add_line(ax, gleam, C_RED, LE_NAMES[3])
            add_line(ax, lf, C_BLACK, LE_NAMES[4])
        else:
            rs, rsm, ceres, srb, sd1, sd2 = RN_TABLE[r]
            add_band(ax, rs, sd1, F_RS)
            add_band(ax, rsm, sd2, F_RSM)
            add_line(ax, rs, C_RS, RN_NAMES[0])
            add_line(ax, rsm, C_RSM, RN_NAMES[1])
            add_line(ax, ceres, C_BLUE, RN_NAMES[2])
            add_line(ax, srb, C_RED, RN_NAMES[3])
        common = dict(showline=True, linecolor=AX, linewidth=0.9, ticks="outside",
                      ticklen=4, tickwidth=0.9, tickcolor=AX, showgrid=False,
                      zeroline=False, tickfont=dict(family=FONT, size=9.5, color="black"))
        layout["xaxis" + sfx] = dict(domain=list(XDOM[c]), anchor="y" + sfx, type="date",
                                     range=list(XRANGE[c]), tickmode="array",
                                     tickvals=YEAR_TICKS, ticktext=YEAR_LABELS,
                                     showticklabels=(r == 6), tickangle=-90, **common)
        layout["yaxis" + sfx] = dict(domain=list(ydom(r)), anchor="x" + sfx,
                                     range=list(YRANGE[c]), tickmode="array",
                                     tickvals=YTICKS[c], ticklabelstandoff=2, **common)

annotations = []
# column titles
annotations.append(dict(text="Latent Heat Energy (MJ. m<sup>−2</sup>. d<sup>−1</sup>)",
                        x=195 / W, y=1 - 10 / H, xref="paper", yref="paper",
                        showarrow=False, xanchor="center", yanchor="middle",
                        font=dict(family=FONT, size=10.2, color="black")))
annotations.append(dict(text="Net Radiation (MJ. m<sup>−2</sup>. d<sup>−1</sup>)",
                        x=518 / W, y=1 - 10 / H, xref="paper", yref="paper",
                        showarrow=False, xanchor="center", yanchor="middle",
                        font=dict(family=FONT, size=10.2, color="black")))
# row labels
for r, name in enumerate(REGIONS):
    y0, y1 = ydom(r)
    annotations.append(dict(text=name, x=(13 if "<br>" not in name else 16) / W,
                            y=(y0 + y1) / 2, xref="paper", yref="paper",
                            showarrow=False, textangle=-90, xanchor="center", yanchor="middle",
                            font=dict(family=FONT, size=10.2, color="black")))

# legends (line keys + labels)
shapes = []
LEG_Y = 1 - 28 / H
LEFT_KEYS = [(58, 70, 73, C_RS), (86, 99, 101, C_RSM), (146, 158, 161, C_BLUE),
             (180, 192, 195, C_RED), (253, 266, 268, C_BLACK)]
RIGHT_KEYS = [(403, 415, 418, C_RS), (431, 443, 446, C_RSM), (492, 504, 507, C_BLUE),
              (561, 573, 576, C_RED)]
for names, keys in ((LE_NAMES, LEFT_KEYS), (RN_NAMES, RIGHT_KEYS)):
    for name, (a, b, t, col) in zip(names, keys):
        shapes.append(dict(type="line", xref="paper", yref="paper", x0=a / W, x1=b / W,
                           y0=LEG_Y, y1=LEG_Y, line=dict(color=col, width=1.8)))
        annotations.append(dict(text=name, x=t / W, y=LEG_Y, xref="paper", yref="paper",
                                showarrow=False, xanchor="left", yanchor="middle", borderpad=0,
                                font=dict(family=FONT, size=7.3, color="black")))

fig.update_layout(width=W, height=H, margin=dict(l=0, r=0, t=0, b=0),
                  paper_bgcolor="white", plot_bgcolor="white", showlegend=False,
                  font=dict(family=FONT, size=9.5, color="black"),
                  annotations=annotations, shapes=shapes, **layout)

fig.write_html("out.html", config={"displayModeBar": False},
               post_script="document.body.style.margin='0px';")
